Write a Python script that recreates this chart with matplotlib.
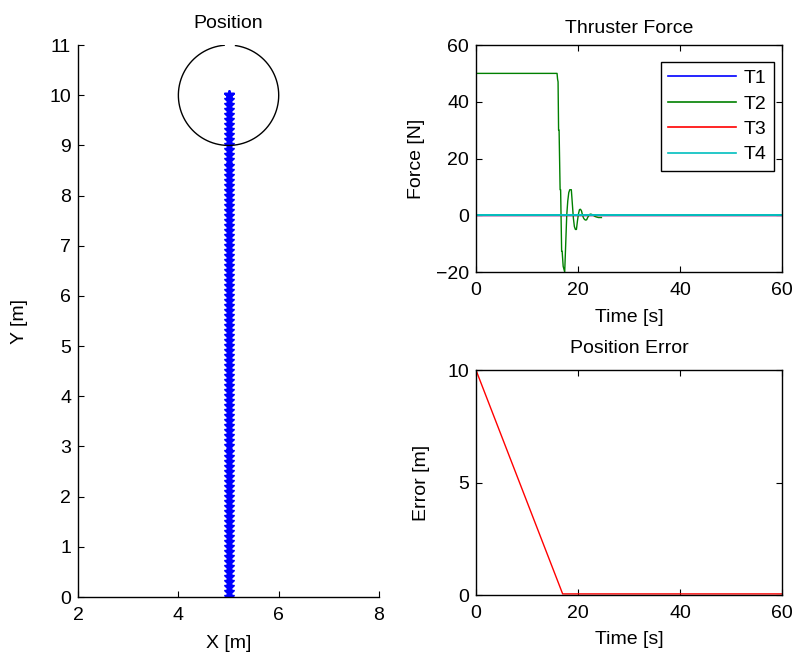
import matplotlib
matplotlib.use("Agg")
import matplotlib.pyplot as plt
import numpy as np

plt.rcParams['font.family'] = ['Liberation Sans', 'DejaVu Sans']
plt.rcParams['font.size'] = 14

# trayectoria (posicion y del vehiculo, x fija en 5)
pos_y = [0.0, 0.1, 0.2, 0.3, 0.4, 0.5, 0.6, 0.7, 0.8, 0.9,
         1.0, 1.1, 1.2, 1.3, 1.4, 1.5, 1.6, 1.7, 1.8, 1.9,
         2.0, 2.1, 2.2, 2.3, 2.4, 2.5, 2.6, 2.7, 2.8, 2.9,
         3.0, 3.1, 3.2, 3.3, 3.4, 3.5, 3.6, 3.7, 3.8, 3.9,
         4.0, 4.1, 4.2, 4.3, 4.4, 4.5, 4.6, 4.7, 4.8, 4.9,
         5.0, 5.1, 5.2, 5.3, 5.4, 5.5, 5.6, 5.7, 5.8, 5.9,
         6.0, 6.1, 6.2, 6.3, 6.4, 6.5, 6.6, 6.7, 6.8, 6.9,
         7.0, 7.1, 7.2, 7.3, 7.4, 7.5, 7.6, 7.7, 7.8, 7.9,
         8.0, 8.1, 8.2, 8.3, 8.4, 8.5, 8.6, 8.7, 8.8, 8.9,
         9.0, 9.1, 9.2, 9.3, 9.4, 9.5, 9.6, 9.7, 9.8, 9.9,
         10.0, 10.0, 10.0]
pos_x = [5.0] * len(pos_y)

# objetivo
target_x = 5.0
target_y = 10.0
target_r = 1.0

# fuerza del propulsor T2
t_force = [0.0, 15.9, 16.0, 16.1, 16.2, 16.3, 16.5, 16.6, 16.8, 16.9,
           17.1, 17.4, 17.6, 17.8, 18.0, 18.2, 18.4, 18.7, 18.9, 19.1,
           19.3, 19.5, 19.7, 19.9, 20.1, 20.3, 20.5, 20.7, 20.9, 21.1,
           21.3, 21.5, 21.7, 21.9, 22.1, 22.3, 22.5, 22.7, 23.0, 23.3,
           23.6, 24.0, 24.3, 24.6]
f_t2 = [50.0, 50.0, 48.0, 47.0, 30.0, 30.0, 9.0, 9.0, -12.7, -12.7,
        -18.0, -20.0, -10.0, 0.0, 5.0, 8.0, 9.0, 9.0, 4.0, -1.0,
        -4.0, -5.0, -5.0, -2.0, 0.5, 2.0, 2.1, 1.5, 0.0, -1.0,
        -1.5, -1.7, -1.6, -0.8, -0.2, 0.3, 0.4, 0.3, 0.0, -0.4,
        -0.6, -0.8, -0.8, -0.8]
t_zero = [0.0, 60.0]
f_zero = [0.0, 0.0]

# error de posicion
t_err = [0.0, 17.0, 60.0]
err = [10.0, 0.05, 0.05]


def estilo(ax, caja=True):
    ax.tick_params(direction='in', top=caja, right=caja, length=4, width=0.8,
                   labelsize=14)
    ax.tick_params(axis='x', pad=7)
    ax.tick_params(axis='y', pad=5)
    for s in ax.spines.values():
        s.set_linewidth(1.0)
    if not caja:
        ax.spines['top'].set_visible(False)
        ax.spines['right'].set_visible(False)


fig = plt.figure(figsize=(7.97, 6.61), dpi=100)

# posicion
ax1 = fig.add_axes([0.0979, 0.0968, 0.3777, 0.835])
ax1.plot(pos_x, pos_y, color='b', marker='*', ms=7, lw=1, mew=1)
th = np.linspace(np.deg2rad(95), np.deg2rad(442), 200)
ax1.plot(target_x + target_r*np.cos(th), target_y + target_r*np.sin(th), color='k', lw=1)
ax1.set_xlim(2, 8)
ax1.set_ylim(0, 11)
ax1.set_xticks([2, 4, 6, 8])
ax1.set_yticks(range(0, 12))
ax1.set_title("Position", fontsize=14, pad=12)
ax1.set_xlabel("X [m]", fontsize=14)
ax1.set_ylabel("Y [m]", fontsize=14)
ax1.xaxis.set_label_coords(0.5, -0.068)
ax1.yaxis.set_label_coords(-0.165, 0.5)
estilo(ax1, caja=False)

# fuerza
ax2 = fig.add_axes([0.5972, 0.5885, 0.3839, 0.3434])
ax2.plot(t_zero, f_zero, color='b', lw=1, label="T1")
ax2.plot(t_force, f_t2, color=(0, 0.5, 0), lw=1, label="T2")
ax2.plot(t_zero, f_zero, color='r', lw=1, label="T3")
ax2.plot(t_zero, f_zero, color=(0, 0.75, 0.75), lw=1.4, label="T4")
ax2.set_xlim(0, 60)
ax2.set_ylim(-20, 60)
ax2.set_xticks([0, 20, 40, 60])
ax2.set_yticks([-20, 0, 20, 40, 60])
ax2.set_title("Thruster Force", fontsize=14, pad=9)
ax2.set_xlabel("Time [s]", fontsize=14)
ax2.set_ylabel("Force [N]", fontsize=14)
ax2.xaxis.set_label_coords(0.5, -0.165)
ax2.yaxis.set_label_coords(-0.167, 0.5)
leg = ax2.legend(loc='upper right', bbox_to_anchor=(0.974, 0.926), borderaxespad=0,
                 fancybox=False, framealpha=1, edgecolor='k', handlelength=3.45,
                 handletextpad=0.4, borderpad=0.4, labelspacing=0.4, fontsize=14)
leg.get_frame().set_linewidth(1.0)
for h in leg.get_lines():
    h.set_linewidth(1.2)
estilo(ax2)

# error
ax3 = fig.add_axes([0.5972, 0.0998, 0.3839, 0.3404])
ax3.plot(t_err, err, color='r', lw=1)
ax3.set_xlim(0, 60)
ax3.set_ylim(0, 10)
ax3.set_xticks([0, 20, 40, 60])
ax3.set_yticks([0, 5, 10])
ax3.set_title("Position Error", fontsize=14, pad=12)
ax3.set_xlabel("Time [s]", fontsize=14)
ax3.set_ylabel("Error [m]", fontsize=14)
ax3.xaxis.set_label_coords(0.5, -0.158)
ax3.yaxis.set_label_coords(-0.150, 0.5)
estilo(ax3)

fig.savefig("out.png", dpi=100)
